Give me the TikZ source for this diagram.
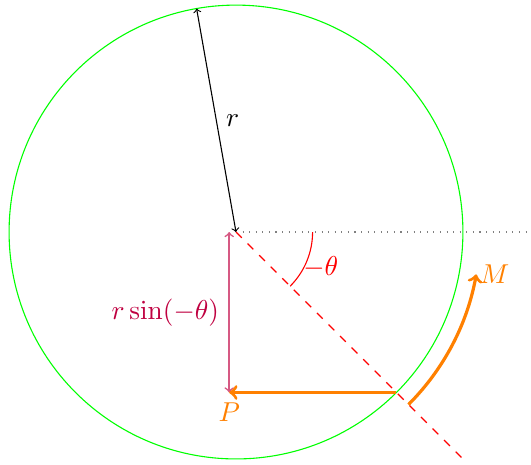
\documentclass[tikz,border=0pt]{standalone}
\usepackage{amsmath,amssymb}
\usepackage{xcolor}
\usepackage{tikz}

\begin{document}
\begin{tikzpicture}[line width=0.55pt, every node/.style={scale=1.37}]
  \useasboundingbox (-4.16,-4.09) rectangle (5.2,4.09);
  \coordinate (O)  at (0,0);
  \coordinate (T)  at (100:4);
  \coordinate (Q)  at (-45:4);
  \coordinate (D)  at (-45:5.66);
  \coordinate (E)  at (5.2,0);
  \coordinate (Pt) at (-0.12,{-4*sin(45)});
  \coordinate (Pr) at (-0.12,0);
  \draw[green]       (O) circle (4);
  \draw[<->]         (O) -- (T) node[midway,right] (rl) {$r$};
  \draw[gray,dash pattern=on 0.55pt off 2.75pt] (O) -- (E);
  \draw[red,dash pattern=on 4.1pt off 4.1pt]    (O) -- (D);
  \draw[red]         (0:1.35) arc (0:-45:1.35);
  \node[red] (th) at (-22.5:1.62) {$-\theta$};
  \draw[<->,purple!65,line width=0.8pt] (Pt) -- (Pr) node[midway,left,purple] (sl) {$r\sin(-\theta)$};
  \draw[->,line width=1.6pt,orange] (Q) -- (Pt);
  \node[orange,below] (P) at (Pt) {$P$};
  \draw[->,line width=1.6pt,orange] (-45:4.3) arc (-45:-10:4.3) node[right,inner sep=0.5pt] (M) {$M$};
\end{tikzpicture}
\end{document}
